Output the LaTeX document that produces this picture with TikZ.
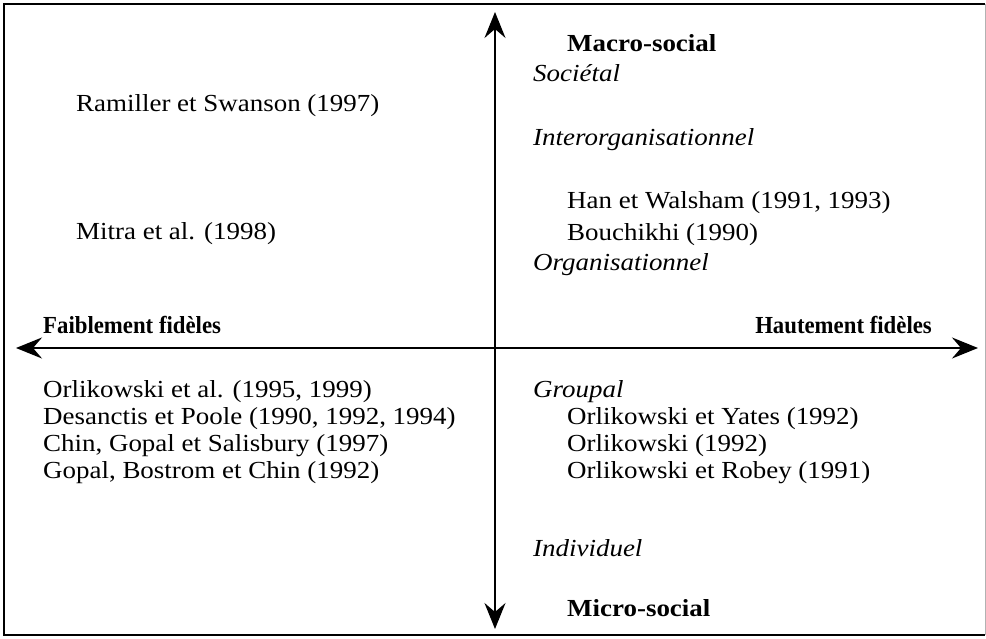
\documentclass[tikz,border=0pt]{standalone}
\usepackage{fontspec}
\setmainfont{Liberation Serif}[FakeStretch=1.1]
\newfontfamily\polefont{Liberation Serif}[FakeStretch=0.93]
\usetikzlibrary{arrows.meta}
\begin{document}
\begin{tikzpicture}[x=1pt,y=-1pt,
  txt/.style={anchor=base west,inner sep=0pt,font=\fontsize{24.5}{25}\selectfont},
  cat/.style={txt,font=\fontsize{24.5}{25}\selectfont\itshape},
  pole/.style={txt,font=\fontsize{24.5}{25}\selectfont\bfseries},
  hpole/.style={txt,font=\fontsize{24.5}{25}\selectfont\polefont\bfseries},
  axis/.style={line width=1.8pt,{Stealth[length=26pt,width=21pt,inset=9pt]}-{Stealth[length=26pt,width=21pt,inset=9pt]}}]
\useasboundingbox (0,0) rectangle (986,639);
% frame
\draw[line width=1.6pt] (985,4) -- (4,4) -- (4,635) -- (985,635);
\draw[line width=0.6pt,gray!60] (985,4) -- (985,635);
% axes
\coordinate (top) at (495,12);
\coordinate (bot) at (495,629);
\coordinate (lft) at (16,348);
\coordinate (rgt) at (978,348);
\draw[axis] (bot) -- (top);
\draw[axis,line width=2.2pt] (lft) -- (rgt);
% upper right
\node[pole] (macro) at (567,52) {Macro-social};
\node[cat] (soc) at (533,82) {Sociétal};
\node[cat] (inter) at (533,146) {Interorganisationnel};
\node[txt] (han) at (567,209) {Han et Walsham (1991, 1993)};
\node[txt] (bouch) at (567,241) {Bouchikhi (1990)};
\node[cat] (org) at (533,271) {Organisationnel};
% upper left
\node[txt] (ram) at (76,112) {Ramiller et Swanson (1997)};
\node[txt] (mitra) at (76,240) {Mitra et al. (1998)};
% horizontal labels
\node[hpole] (faib) at (43,334) {Faiblement fidèles};
\node[hpole,anchor=base east] (haut) at (932,334) {Hautement fidèles};
% lower left
\node[txt] (l1) at (43,397) {Orlikowski et al. (1995, 1999)};
\node[txt] (l2) at (43,424) {Desanctis et Poole (1990, 1992, 1994)};
\node[txt] (l3) at (43,451) {Chin, Gopal et Salisbury (1997)};
\node[txt] (l4) at (43,478) {Gopal, Bostrom et Chin (1992)};
% lower right
\node[cat] (grp) at (533,397) {Groupal};
\node[txt] (r1) at (567,424) {Orlikowski et Yates (1992)};
\node[txt] (r2) at (567,451) {Orlikowski (1992)};
\node[txt] (r3) at (567,478) {Orlikowski et Robey (1991)};
\node[cat] (ind) at (533,556) {Individuel};
\node[pole] (micro) at (567,616) {Micro-social};
\end{tikzpicture}
\end{document}
